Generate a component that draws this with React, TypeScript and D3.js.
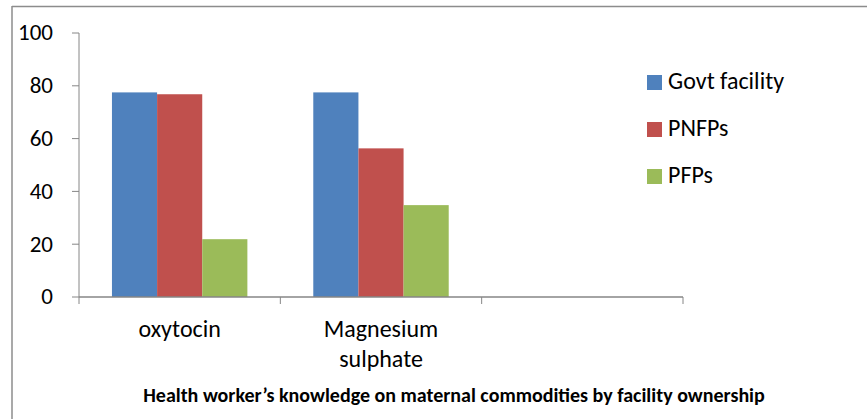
import React, { useEffect, useRef } from "react";
import * as d3 from "d3";

const categories = ["oxytocin", "Magnesium sulphate", ""];
const series = ["Govt facility", "PNFPs", "PFPs"];
const colors = ["#4F81BD", "#C0504D", "#9BBB59"];
const govtValues = [77.5, 77.5];
const pnfpValues = [76.8, 56.3];
const pfpValues = [21.9, 34.8];
const yTicks = [0, 20, 40, 60, 80, 100];
const title = "Health worker\u2019s knowledge on maternal commodities by facility ownership";

const FONT = "Carlito, Calibri, 'Open Sans', sans-serif";

export default function App() {
  const ref = useRef<SVGSVGElement>(null);

  useEffect(() => {
    const svg = d3.select(ref.current);
    svg.selectAll("*").remove();

    const width = 867;
    const height = 419;
    const margin = { top: 33, left: 79, bottom: 122, right: 184 };

    // chart frame (top and left edges only visible)
    svg.append("line").attr("x1", 12).attr("x2", width).attr("y1", 6.5).attr("y2", 6.5)
      .attr("stroke", "#8c8c8c").attr("stroke-width", 1.5);
    svg.append("line").attr("x1", 12).attr("x2", 12).attr("y1", 6).attr("y2", height)
      .attr("stroke", "#8c8c8c").attr("stroke-width", 1.5);

    const y = d3.scaleLinear().domain([0, 100]).range([height - margin.bottom, margin.top]);
    const x = d3.scaleBand().domain(categories.map((c, i) => i + "")).range([margin.left, width - margin.right]);
    const xs = d3.scaleBand().domain(series).range([0, x.bandwidth()]).paddingOuter(0.73);

    const seriesValues = [govtValues, pnfpValues, pfpValues];
    const g = svg.append("g");
    series.forEach((s, si) => {
      g.selectAll(null)
        .data(seriesValues[si])
        .enter()
        .append("rect")
        .attr("x", (_, i) => (x(i + "") as number) + (xs(s) as number))
        .attr("y", d => y(d))
        .attr("width", xs.bandwidth())
        .attr("height", d => y(0) - y(d))
        .attr("fill", colors[si]);
    });

    const axisColor = "#868686";
    // y axis
    svg.append("line").attr("x1", margin.left).attr("x2", margin.left)
      .attr("y1", y(100)).attr("y2", y(0)).attr("stroke", axisColor).attr("stroke-width", 1);
    yTicks.forEach(t => {
      svg.append("line").attr("x1", margin.left - 7).attr("x2", margin.left)
        .attr("y1", y(t)).attr("y2", y(t)).attr("stroke", axisColor);
      svg.append("text").attr("x", 53).attr("y", y(t)).attr("dy", "0.32em")
        .attr("text-anchor", "end").attr("font-family", FONT).attr("font-size", 23)
        .attr("fill", "#000").text(t);
    });

    // x axis
    svg.append("line").attr("x1", margin.left).attr("x2", width - margin.right)
      .attr("y1", y(0)).attr("y2", y(0)).attr("stroke", axisColor).attr("stroke-width", 1.5);
    const edges = categories.map((_, i) => x(i + "") as number).concat([width - margin.right]);
    edges.forEach(e => {
      svg.append("line").attr("x1", e).attr("x2", e).attr("y1", y(0)).attr("y2", y(0) + 7)
        .attr("stroke", axisColor);
    });
    categories.forEach((c, i) => {
      const cx = (x(i + "") as number) + x.bandwidth() / 2;
      c.split(" ").forEach((line, li) => {
        svg.append("text").attr("x", cx).attr("y", 337 + li * 30)
          .attr("text-anchor", "middle").attr("font-family", FONT).attr("font-size", 24)
          .attr("fill", "#000").text(line);
      });
    });

    // legend
    series.forEach((s, i) => {
      const ly = 82.5 + i * 47;
      svg.append("rect").attr("x", 647).attr("y", ly - 7.5).attr("width", 15).attr("height", 15)
        .attr("fill", colors[i]);
      svg.append("text").attr("x", 668).attr("y", ly + 6.5)
        .attr("font-family", FONT).attr("font-size", 24).attr("fill", "#000").text(s);
    });

    // title
    svg.append("text").attr("x", 454).attr("y", 401.5)
      .attr("text-anchor", "middle").attr("font-family", FONT).attr("font-size", 20)
      .attr("font-weight", "bold").attr("fill", "#000").text(title);
  }, []);

  return (
    <div style={{ position: "absolute", left: 0, top: 0 }}>
      <svg ref={ref} width={867} height={419} style={{ display: "block", background: "#fff" }} />
    </div>
  );
}
